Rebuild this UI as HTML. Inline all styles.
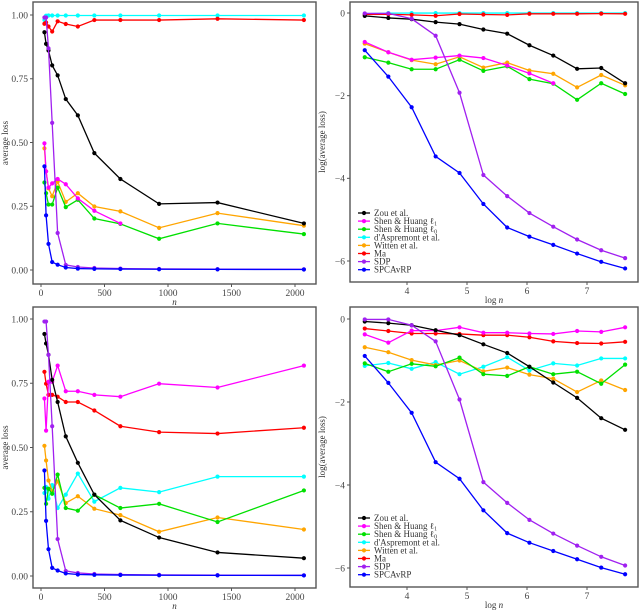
<!DOCTYPE html>
<html><head><meta charset="utf-8"><style>
body{margin:0;background:#fff;width:640px;height:610px;overflow:hidden}
svg{display:block;font-family:"Liberation Serif",serif}
</style></head><body>
<svg id="c" width="640" height="610"></svg>
<script>
const nValues=[27,40,59,88,131,195,290,420,625,930,1390,2070];
const seriesNames=["Zou et al.","Shen & Huang \u2113|1","Shen & Huang \u2113|0","d'Aspremont et al.","Witten et al.","Ma","SDP","SPCAvRP"];
const seriesKeys=["zou","shen1","shen0","daspremont","witten","ma","sdp","spcavrp"];
const seriesColors=["#000000","#ff00ff","#00e000","#00ffff","#ffa500","#ff0000","#a020f0","#0000ff"];
// log(average loss), top experiment
const topZou=[-0.07,-0.12,-0.15,-0.22,-0.27,-0.4,-0.5,-0.78,-1.03,-1.35,-1.33,-1.7];
const topShen1=[-0.7,-0.95,-1.13,-1.08,-1.03,-1.09,-1.27,-1.46,-1.7,null,null,null];
const topShen0=[-1.07,-1.2,-1.36,-1.36,-1.13,-1.4,-1.29,-1.6,-1.71,-2.1,-1.7,-1.96];
const topDasp=[-0.02,-0.003,-0.002,-0.002,-0.002,-0.002,-0.002,-0.002,-0.002,-0.002,-0.002,-0.002];
const topWitten=[-0.74,-0.95,-1.14,-1.24,-1.06,-1.32,-1.2,-1.39,-1.47,-1.8,-1.5,-1.75];
const topMa=[-0.035,-0.03,-0.046,-0.067,-0.025,-0.036,-0.046,-0.02,-0.02,-0.02,-0.015,-0.02];
const topSdp=[-0.01,-0.01,-0.14,-0.55,-1.93,-3.92,-4.43,-4.84,-5.17,-5.48,-5.74,-5.93];
const topSpca=[-0.9,-1.54,-2.28,-3.47,-3.87,-4.62,-5.19,-5.41,-5.61,-5.82,-6.02,-6.18];
// log(average loss), bottom experiment
const botZou=[-0.06,-0.1,-0.15,-0.27,-0.39,-0.61,-0.82,-1.15,-1.53,-1.9,-2.39,-2.67];
const botShen1=[-0.37,-0.57,-0.28,-0.28,-0.2,-0.33,-0.33,-0.35,-0.36,-0.29,-0.31,-0.2];
const botShen0=[-1.07,-1.27,-1.08,-1.14,-0.93,-1.33,-1.37,-1.15,-1.33,-1.27,-1.56,-1.1];
const botDasp=[-1.13,-1.06,-1.2,-1.04,-1.33,-1.15,-0.92,-1.24,-1.07,-1.12,-0.95,-0.95];
const botWitten=[-0.68,-0.8,-0.99,-1.11,-1.0,-1.26,-1.17,-1.34,-1.44,-1.76,-1.48,-1.71];
const botMa=[-0.23,-0.29,-0.35,-0.35,-0.36,-0.39,-0.39,-0.44,-0.54,-0.58,-0.59,-0.55];
const botSdp=[-0.01,-0.01,-0.15,-0.54,-1.94,-3.93,-4.43,-4.84,-5.17,-5.46,-5.73,-5.94];
const botSpca=[-0.89,-1.54,-2.26,-3.45,-3.85,-4.61,-5.16,-5.39,-5.59,-5.79,-5.99,-6.15];
const linTicks=[0,0.25,0.5,0.75,1];
const linTickLabels=["0.00","0.25","0.50","0.75","1.00"];
const nTicks=[0,500,1000,1500,2000];
const logYTicks=[0,-2,-4,-6];
const logXTicks=[4,5,6,7];

const svg=document.getElementById('c');
const NS="http://www.w3.org/2000/svg";
function mk(tag,attrs,parent){const e=document.createElementNS(NS,tag);for(const k in attrs)e.setAttribute(k,attrs[k]);(parent||svg).appendChild(e);return e;}

const topData=[topZou,topShen1,topShen0,topDasp,topWitten,topMa,topSdp,topSpca];
const botData=[botZou,botShen1,botShen0,botDasp,botWitten,botMa,botSdp,botSpca];
const drawOrder=[3,5,4,2,1,0,6,7];

function panel(name,box,xs,ys,data,isLog,legend){
  const g=mk('g',{});
  
  
  const fr=mk('rect',{x:box.l,y:box.t,width:box.r-box.l,height:box.b-box.t,fill:'none',stroke:'#555','stroke-width':1.4},g);
  
  
  const yt=isLog?logYTicks:linTicks;
  yt.forEach((v,i)=>{
    const y=ys(v);
    mk('line',{x1:box.l-3,x2:box.l,y1:y,y2:y,stroke:'#555'},g);
    const t=mk('text',{x:box.l-5,y:y+3.3,'text-anchor':'end','font-size':9.5,fill:'#444'},g);
    t.textContent=isLog?(v===0?'0':'\u2212'+(-v)):linTickLabels[i];
    
    
  });
  const xt=isLog?logXTicks:nTicks;
  xt.forEach(v=>{
    const x=xs(v);
    mk('line',{x1:x,x2:x,y1:box.b,y2:box.b+3,stroke:'#555'},g);
    const t=mk('text',{x:x,y:box.b+12,'text-anchor':'middle','font-size':9.5,fill:'#444'},g);
    t.textContent=v;
    
    
  });
  const xl=mk('text',{x:(box.l+box.r)/2,y:box.b+21,'text-anchor':'middle','font-size':9,fill:'#333'},g);
  xl.innerHTML=isLog?'log <tspan font-style="italic">n</tspan>':'<tspan font-style="italic">n</tspan>';
  
  
  const cy=(box.t+box.b)/2, lx=box.l-25;
  const yl=mk('text',{x:lx,y:cy,'text-anchor':'middle','font-size':9,fill:'#333',transform:`rotate(-90 ${lx} ${cy})`},g);
  yl.textContent=isLog?'log(average loss)':'average loss';
  
  
  drawOrder.forEach(si=>{
    const arr=data[si];
    const pts=[];
    arr.forEach((v,i)=>{ if(v===null)return;
      const xv=isLog?Math.log(nValues[i]):nValues[i];
      const yv=isLog?v:Math.exp(v);
      pts.push([xs(xv),ys(yv)]);});
    const pl=mk('polyline',{points:pts.map(p=>p.join(',')).join(' '),fill:'none',stroke:seriesColors[si],'stroke-width':1.3},g);
    
    
    pts.forEach(p=>{
      const c=mk('circle',{cx:p[0],cy:p[1],r:2.1,fill:seriesColors[si]},g);
      
      
    });
  });
  if(legend){
    seriesNames.forEach((nm,i)=>{
      const y=box.t+211+i*8.1;
      const lg=mk('g',{},g);
      
      
      mk('line',{x1:box.l+8,x2:box.l+20,y1:y,y2:y,stroke:seriesColors[i],'stroke-width':1.3},lg);
      mk('circle',{cx:box.l+14,cy:y,r:2.1,fill:seriesColors[i]},lg);
      const t=mk('text',{x:box.l+24,y:y+3,'font-size':9,fill:'#333'},lg);
      const parts=nm.split('|');
      t.textContent=parts[0];
      if(parts[1]){const s=mk('tspan',{'font-size':6,dy:1.5},t);s.textContent=parts[1];}
    });
  }
}
function lin(d0,d1,r0,r1){return v=>r0+(v-d0)*(r1-r0)/(d1-d0);}
panel('panel-top-left',{l:33,r:316,t:2,b:284},lin(0,2000,41,295),lin(0,1,270,15),topData,false,false);
panel('panel-top-right',{l:350,r:638,t:2,b:282},lin(4,7,407,587),lin(0,-6,13,261),topData,true,true);
panel('panel-bottom-left',{l:33,r:316,t:307,b:588},lin(0,2000,41,295),lin(0,1,576,319),botData,false,false);
panel('panel-bottom-right',{l:350,r:638,t:307,b:587},lin(4,7,407,587),lin(0,-6,319,568),botData,true,true);
</script>
</body></html>
